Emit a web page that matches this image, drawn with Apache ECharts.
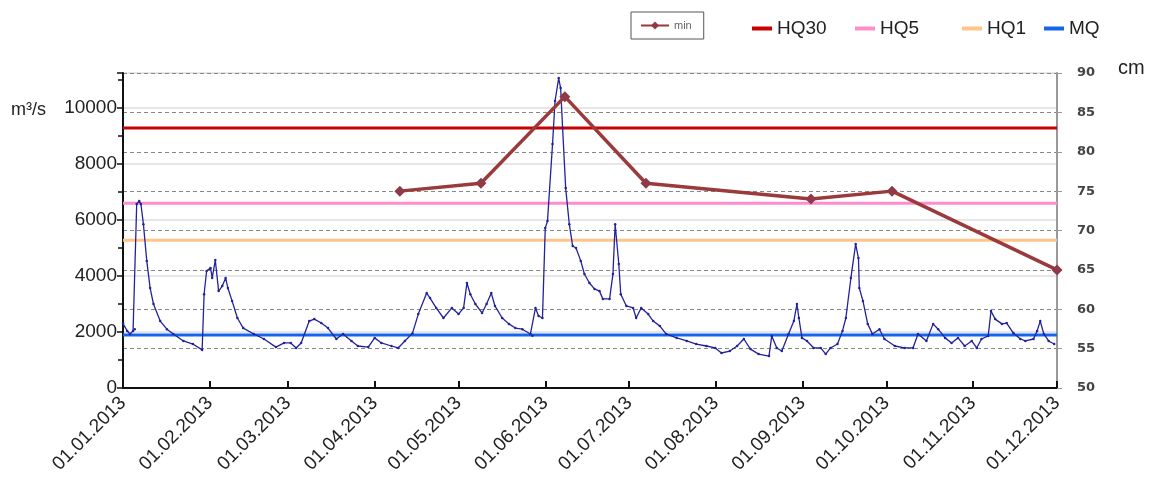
<!DOCTYPE html>
<html>
<head>
<meta charset="utf-8">
<script src="https://cdn.jsdelivr.net/npm/echarts@6/dist/echarts.min.js"></script>
<style>
  html, body { margin: 0; padding: 0; background: #fff; }
  #chart { width: 1154px; height: 480px; }
</style>
</head>
<body>
<div id="chart"></div>
<script>
// day offsets are counted from 01.01.2013
var flowDays = [0, 1.5, 2.5, 3.6, 4.2, 4.9, 5.8, 6.4, 7.3, 8.5, 9.7, 10.9, 13.3, 15.7, 18, 21.6, 25, 28.3,
  29, 29.9, 31.3, 31.9, 33, 34.2, 35.5, 36.7, 37.5, 39, 40.9, 43, 46.8, 50.4, 54.7, 57.6, 60, 61.9, 63.7,
  66.6, 68.4, 70.9, 73.3, 76.3, 78.7, 81.7, 84, 87.7, 90, 92.4, 96, 98.4, 100.8, 103.5, 105.6, 108.6, 109.8,
  112, 114.6, 117.6, 120, 121.8, 123, 124.2, 126, 128.4, 130, 131.7, 133, 135.6, 138, 140.3, 142.8, 145.7,
  146.4, 147.5, 148.6, 150, 151, 151.8, 153.6, 154.5, 155.8, 156.5, 157.2, 158.3, 159.6, 160.8, 162, 163.7,
  165, 166.8, 168.6, 170.4, 171.6, 174, 175.2, 176, 177.3, 178, 180, 182.4, 183.5, 185.3, 187.8, 189.6, 192,
  194.2, 198, 201.6, 205, 208.6, 211.8, 214, 217, 219.6, 222, 224.4, 227.3, 231, 232, 233.8, 235.6, 238,
  239.9, 241, 241.7, 242.8, 244.6, 247, 249.5, 251.3, 253, 255.5, 257.3, 258.5, 260.3, 262, 263, 263.3,
  264.6, 266.3, 268, 270.5, 272.3, 276, 279.5, 282.5, 284.3, 287.3, 289.7, 291.5, 294, 296.3, 298.6, 301,
  303.5, 305.3, 307, 309.4, 310.4, 311.9, 314.3, 316, 318.4, 320.9, 322.7, 325.6, 326.9, 328, 329.3, 331, 333];
var flowValues = [2300, 2040, 1930, 2040, 2100, 6570, 6680, 6570, 5850, 4540, 3570, 3000, 2390, 2100, 1930, 1680, 1570, 1360,
  3350, 4180, 4290, 3930, 4570, 3460, 3640, 3930, 3570, 3110, 2500, 2140, 1930, 1750, 1460, 1610, 1610, 1430, 1610,
  2390, 2460, 2320, 2140, 1750, 1930, 1680, 1500, 1460, 1790, 1610, 1500, 1430, 1680, 1950, 2640, 3390, 3210,
  2860, 2500, 2860, 2640, 2860, 3750, 3350, 3000, 2680, 3000, 3390, 2930, 2500, 2290, 2140, 2100, 1930,
  1870, 2860, 2570, 2500, 5710, 5960, 8710, 10250, 11070, 10710, 9290, 7140, 5850, 5070, 5000, 4540,
  4070, 3750, 3540, 3460, 3180, 3180, 4070, 5850, 4430, 3350, 2930, 2860, 2500, 2860, 2640, 2390, 2210,
  1930, 1790, 1680, 1570, 1500, 1430, 1250, 1320, 1500, 1750, 1390, 1210, 1140, 1860, 1430, 1320, 1930,
  2390, 3000, 2500, 1790, 1680, 1430, 1430, 1210, 1430, 1570, 2040, 2500, 3930, 5140, 4640, 3570,
  3110, 2290, 1930, 2100, 1750, 1500, 1430, 1430, 1930, 1680, 2290, 2100, 1790, 1610, 1790, 1500,
  1680, 1430, 1750, 1860, 2750, 2460, 2290, 2320, 1960, 1750, 1680, 1750, 2040, 2390, 1930, 1680, 1570];

var minDays = [99, 128, 158, 187, 246, 275, 334];
var minValues = [75, 76, 87, 76, 74, 75, 65];

var levelNames = ["HQ30", "HQ5", "HQ1", "MQ"];
var levelValues = [9290, 6600, 5280, 1890];
var levelColors = ["#c80000", "#ff8ccc", "#ffc488", "#1464f0"];

var tickDays = [0, 31, 59, 90, 120, 151, 181, 212, 243, 273, 304, 334];
var tickLabels = ["01.01.2013", "01.02.2013", "01.03.2013", "01.04.2013", "01.05.2013", "01.06.2013",
  "01.07.2013", "01.08.2013", "01.09.2013", "01.10.2013", "01.11.2013", "01.12.2013"];

function toPoints(days, values) {
  return days.map(function (d, i) { return [d, values[i]]; });
}

var chart = echarts.init(document.getElementById("chart"));

var series = [];
levelNames.forEach(function (name, i) {
  series.push({
    name: name,
    type: "line",
    yAxisIndex: 0,
    data: [[0, levelValues[i]], [334, levelValues[i]]],
    symbol: "none",
    silent: true,
    z: 2,
    lineStyle: { color: levelColors[i], width: 3 },
    itemStyle: { color: levelColors[i] }
  });
});
series.push({
  name: "Q",
  type: "line",
  yAxisIndex: 0,
  data: toPoints(flowDays, flowValues),
  symbol: "circle",
  symbolSize: 2.5,
  showSymbol: true,
  z: 3,
  lineStyle: { color: "#22229a", width: 1.3 },
  itemStyle: { color: "#22229a" }
});
series.push({
  name: "min",
  type: "line",
  yAxisIndex: 1,
  data: toPoints(minDays, minValues),
  symbol: "diamond",
  symbolSize: 11,
  z: 5,
  lineStyle: { color: "#9b3a3a", width: 3.5 },
  itemStyle: { color: "#8e3a48" }
});

var legendLefts = [752, 855, 962, 1044];
var legends = [{
  data: ["min"],
  left: 631,
  top: 12,
  padding: [8, 12, 8, 9],
  borderColor: "#555",
  borderWidth: 1,
  itemWidth: 28,
  itemHeight: 10,
  textStyle: { fontSize: 11, color: "#666", fontFamily: "Liberation Sans" }
}];
levelNames.forEach(function (name, i) {
  legends.push({
    data: [name],
    left: legendLefts[i],
    top: 19,
    padding: 0,
    icon: "rect",
    itemWidth: 20,
    itemHeight: 4,
    textStyle: { fontSize: 19, color: "#222", fontFamily: "Liberation Sans" }
  });
});

chart.setOption({
  animation: false,
  backgroundColor: "#fff",
  legend: legends,
  grid: { left: 123, right: 97, top: 73, bottom: 92 },
  xAxis: {
    type: "value",
    min: 0,
    max: 334,
    axisLine: { lineStyle: { color: "#111", width: 2 } },
    axisTick: {
      show: true,
      inside: true,
      length: 7,
      customValues: tickDays,
      lineStyle: { color: "#111", width: 2 }
    },
    axisLabel: {
      rotate: 45,
      margin: 12,
      fontSize: 19,
      color: "#222",
      fontFamily: "Liberation Sans",
      customValues: tickDays,
      formatter: function (v) {
        var i = tickDays.indexOf(v);
        return i >= 0 ? tickLabels[i] : "";
      }
    },
    splitLine: { show: false }
  },
  yAxis: [
    {
      type: "value",
      position: "left",
      min: 0,
      max: 11250,
      interval: 2000,
      axisLine: { show: true, lineStyle: { color: "#111", width: 2 } },
      axisTick: { show: true, length: 6, lineStyle: { color: "#111", width: 1.5 } },
      minorTick: { show: true, splitNumber: 2, length: 5, lineStyle: { color: "#111", width: 1.5 } },
      axisLabel: {
        fontSize: 19,
        color: "#222",
        margin: 6,
        fontFamily: "Liberation Sans",
        showMaxLabel: false,
        formatter: function (v) { return String(v); }
      },
      splitLine: { show: true, lineStyle: { color: "#dedede", width: 1.5, type: "solid" } }
    },
    {
      type: "value",
      position: "right",
      min: 50,
      max: 90,
      interval: 5,
      axisLine: { show: true, lineStyle: { color: "#999", width: 2 } },
      axisTick: { show: true, length: 5, lineStyle: { color: "#999" } },
      axisLabel: { fontSize: 13, color: "#444", fontWeight: "bold", margin: 20, fontFamily: "DejaVu Sans" },
      splitLine: { show: true, lineStyle: { color: "#888", width: 1, type: [4, 3] } }
    }
  ],
  graphic: [
    {
      type: "text",
      left: 11,
      top: 101,
      style: { text: "m³/s", fontSize: 18, fill: "#222", fontFamily: "Liberation Sans" }
    },
    {
      type: "text",
      left: 1118,
      top: 58,
      style: { text: "cm", fontSize: 20, fill: "#222", fontFamily: "Liberation Sans" }
    }
  ],
  series: series
});
</script>
</body>
</html>
